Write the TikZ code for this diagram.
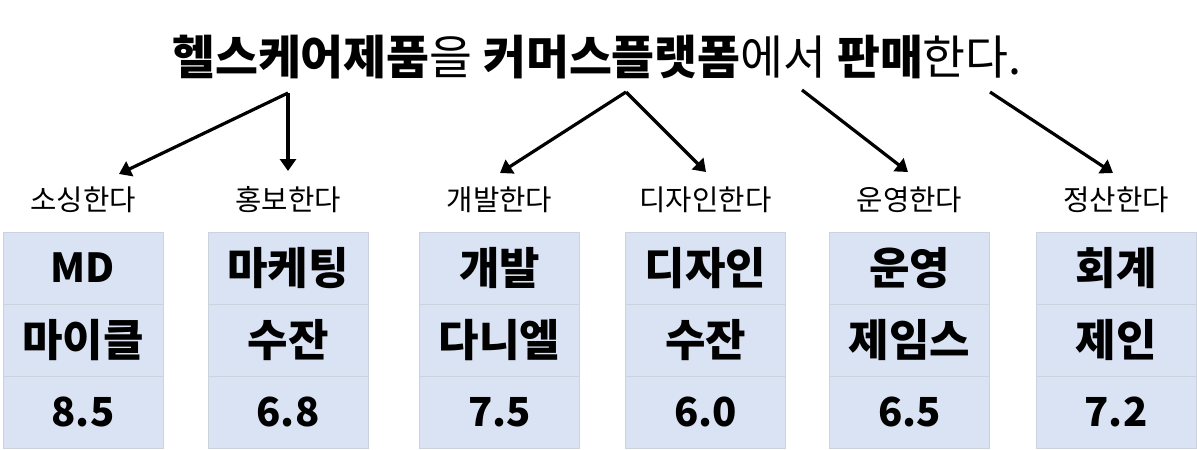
\documentclass[tikz,border=0pt]{standalone}
\usepackage{fontspec}
\setmainfont{Noto Sans CJK KR}
\usetikzlibrary{arrows.meta, positioning}
\definecolor{cellblue}{HTML}{DAE3F3}
\definecolor{cellline}{HTML}{CDD3DE}
\tikzset{
  cell/.style={draw=cellline, fill=cellblue, minimum width=120pt, minimum height=54pt, inner sep=0pt, font=\fontsize{33}{38}\selectfont\bfseries},
  verb/.style={font=\fontsize{21.5}{26}\selectfont},
  link/.style={line width=2.4pt, -{Triangle[length=9pt, width=12pt]}}
}
\newcommand{\lat}[1]{{\fontsize{30}{36}\selectfont #1}}

\begin{document}
\begin{tikzpicture}[x=0.75pt, y=-0.75pt]
  \useasboundingbox (0,0) rectangle (1197,450);
  \node[font=\fontsize{35}{40}\selectfont] (ttl) at (597,57) {\textbf{헬스케어제품}을 \textbf{커머스플랫폼}에서 \textbf{판매}한다.};

  % roles, people, scores
  \foreach \x/\job/\who/\pt/\vb [count=\i] in {83/\lat{MD}/마이클/8.5/소싱한다, 288/마케팅/수잔/6.8/홍보한다, 499.5/개발/다니엘/7.5/개발한다, 705.5/디자인/수잔/6.0/디자인한다, 909.5/운영/제임스/6.5/운영한다, 1116/회계/제인/7.2/정산한다} {
    \node[verb] (vb\i) at (\x,200) {\vb};
    \node[cell] (job\i) at (\x,268) {\job};
    \node[cell] (who\i) at (\x,340) {\who};
    \node[cell] (pt\i) at (\x,412) {\lat{\pt}};
  }

  \coordinate (hc) at (288,93);
  \coordinate (cp) at (626,92);
  \coordinate (sl) at (802,90);
  \coordinate (st) at (990,92);
  \coordinate (t1) at (119,174);
  \coordinate (t2) at (288,171);
  \coordinate (t3) at (500,173);
  \coordinate (t4) at (706,172);
  \coordinate (t5) at (908,172);
  \coordinate (t6) at (1113,173);
  \draw[link] (hc) to (t1);
  \draw[link] (hc) to (t2);
  \draw[link] (cp) to (t3);
  \draw[link] (cp) to (t4);
  \draw[link] (sl) to (t5);
  \draw[link] (st) to (t6);
\end{tikzpicture}
\end{document}
